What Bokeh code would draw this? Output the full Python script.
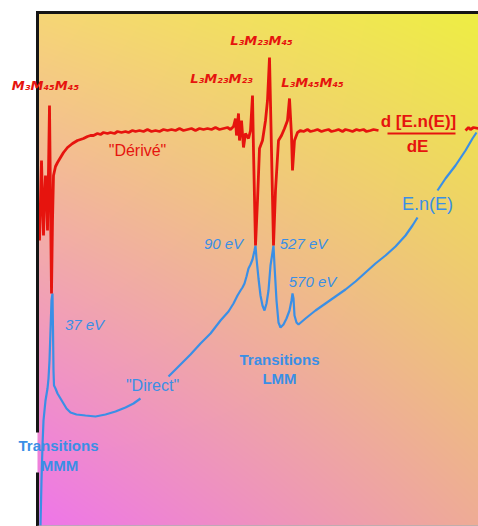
import numpy as np
from bokeh.plotting import figure
from bokeh.models import Range1d, Label, Arrow, BoxAnnotation
from bokeh.embed import file_html
from bokeh.resources import INLINE

nan = float("nan")

# Derivative spectrum d[E.n(E)]/dE (arbitrary units; x = energy-axis position, y = signal)
red_x = [2, 3, 4, 5, 6, 7, 8, 9, 10, 11, 12, 13, 14, 15, 16, 18, 20, 23, 26, 30, 35, 40,
         46, 50, 53, 56, 60, 63, 66, 70, 73, 77, 80, 84, 88, 91, 95, 98, 102, 106, 110,
         114, 118, 122, 126, 130, 134, 138, 142, 146, 150, 154, 158, 162, 166, 170, 174,
         178, 182, 186, 190, 193, 196,
         198, 199, 201, 202, 204, 206, 208, 211, 213, 215, 216, 218, 220, 222, 225, 228,
         230, 232, 234, 236, 238, 241, 244, 247, 250, 252, 254, 255, 257, 260,
         263, 266, 270, 273, 277, 280, 284, 287, 291, 294, 298, 301, 305, 308, 312, 315,
         319, 322, 326, 329, 333, 336, 341, nan, 428, 431, 433, 436, 441]
red_y = [285, 325, 365, 325, 290, 325, 350, 335, 295, 355, 420, 325, 232, 305, 350, 359, 363,
         368, 373, 378, 382, 385,
         387, 389, 390, 390, 392, 391, 393, 392, 393, 392, 394, 393, 394, 393, 395, 394,
         395, 394, 396, 394, 395, 394, 396, 395, 396, 395, 397, 395, 396, 397, 395, 397,
         396, 397, 396, 398, 396, 397, 398, 396, 399,
         407, 390, 412, 385, 405, 378, 392, 387, 395, 430, 375, 280, 325, 377, 385, 405,
         425, 468, 375, 280, 335, 385, 390, 397, 405, 427, 390, 355, 385, 393,
         395, 394, 396, 394, 395, 396, 394, 395, 396, 394, 395, 396, 394, 396, 395, 394,
         396, 395, 396, 394, 395, 396, 395, nan, 395, 398, 396, 398, 397]

# Direct spectrum E.n(E)
blue_x = [3, 4, 5, 6, 8, 10, 11, 12, 13, 14, 15, 15.5, 16, 16.5, 18, 20, 23, 26, 29, 33,
          39, 48, 58, 68, 78, 88, 96, 103, nan,
          131, 143, 153, 163, 173, 183, 191, 196, 200, 203, 205, 207, 209, 211, 213, 215,
          217, 218, 219, 221, 223, 225, 227, 229, 231, 233, 235, 236, 237, 239, 241, 243,
          246, 249, 252, 254, 255, 256, 257, 259, 261, 268, 278, 288, 298, 308, 318, 328,
          338, 348, 358, 368, 375, 380, nan, 400, 408, 418, 428, 435, 439]
blue_y = [0, 45, 80, 105, 125, 137, 147, 165, 195, 225, 232, 195, 155, 140, 137, 132, 127,
          122, 117, 113, 111, 110, 109, 111, 114, 118, 122, 127, nan,
          149, 161, 171, 182, 192, 205, 214, 222, 230, 235, 238, 242, 249, 257, 261, 266,
          275, 280, 267, 247, 230, 220, 215, 222, 235, 260, 273, 280, 260, 225, 203, 198,
          201, 207, 215, 225, 232, 227, 210, 203, 201, 207, 215, 222, 229, 236, 244, 253,
          262, 270, 279, 290, 300, 308, nan, 335, 347, 360, 375, 387, 393]

X_MAX, Y_MAX = 441, 513

RED = "#e6140e"
BLUE = "#3a8fe6"

p = figure(width=478, height=526, output_backend="svg", toolbar_location=None,
           x_range=Range1d(-37, X_MAX), y_range=Range1d(-1, Y_MAX + 12),
           x_axis_location=None, y_axis_location=None, min_border=0)
p.xgrid.grid_line_color = None
p.ygrid.grid_line_color = None
p.outline_line_color = None
p.background_fill_color = "white"
p.border_fill_color = "white"

# gradient backdrop (bilinear between corner colours)
H, W = Y_MAX, X_MAX
u = np.linspace(0, 1, W)[None, :]
v = np.linspace(0, 1, H)[:, None]
BL = np.array([238, 118, 234]); BR = np.array([238, 172, 150])
TL = np.array([246, 214, 118]); TR = np.array([238, 238, 68])
img = np.empty((H, W), dtype=np.uint32)
view = img.view(dtype=np.uint8).reshape((H, W, 4))
for c in range(3):
    view[:, :, c] = (BL[c] * (1 - u) * (1 - v) + BR[c] * u * (1 - v)
                     + TL[c] * (1 - u) * v + TR[c] * u * v).astype(np.uint8)
view[:, :, 3] = 255
p.image_rgba(image=[img], x=0, y=0, dw=W, dh=H)

p.line(blue_x, blue_y, line_color=BLUE, line_width=2.2)
p.line(red_x, red_y, line_color=RED, line_width=2.8)

# frame: left (with a gap behind the MMM label), top, thin bottom edge
for box in [dict(left=-1.5, right=1.5, bottom=-2, top=53),
            dict(left=-1.5, right=1.5, bottom=93, top=Y_MAX + 1.5),
            dict(left=-1.5, right=X_MAX + 5, bottom=Y_MAX - 1.5, top=Y_MAX + 1.5)]:
    p.add_layout(BoxAnnotation(fill_color="#151515", fill_alpha=1, line_color=None, **box))
p.add_layout(BoxAnnotation(left=0, right=X_MAX + 5, bottom=-5, top=0,
                           fill_color="#8a8a8a", fill_alpha=1, line_color=None))

def lab(x, y, t, color, size, style="normal", font="Liberation Sans"):
    p.add_layout(Label(x=x, y=y, text=t, text_align="center", text_baseline="middle",
                       text_color=color, text_font=font, text_font_size=size,
                       text_font_style=style))

# red annotations
lab(8, 440, "M₃M₄₅M₄₅", RED, "13px", "bold italic", "DejaVu Sans")
lab(184, 447, "L₃M₂₃M₂₃", RED, "13px", "bold italic", "DejaVu Sans")
lab(224, 485, "L₃M₂₃M₄₅", RED, "13px", "bold italic", "DejaVu Sans")
lab(275, 443, "L₃M₄₅M₄₅", RED, "13px", "bold italic", "DejaVu Sans")
lab(100, 375, "\"Dérivé\"", RED, "16px")
lab(381, 404, "d [E.n(E)]", RED, "17px", "bold")
lab(380, 379, "dE", RED, "17px", "bold")
p.add_layout(Arrow(x_start=350, y_start=392, x_end=418, y_end=392, end=None,
                   line_color=RED, line_width=2))

# blue annotations
lab(47, 201, "37 eV", BLUE, "15px", "italic")
lab(115, 140, "\"Direct\"", BLUE, "16px")
lab(186, 282, "90 eV", BLUE, "15px", "italic")
lab(266, 282, "527 eV", BLUE, "15px", "italic")
lab(275, 244, "570 eV", BLUE, "15px", "italic")
lab(242, 166, "Transitions", BLUE, "15px", "bold")
lab(242, 147, "LMM", BLUE, "15px", "bold")
lab(21, 80, "Transitions", BLUE, "15px", "bold")
lab(22, 60, "MMM", BLUE, "15px", "bold")
lab(390, 322, "E.n(E)", BLUE, "18px")

open("out.html", "w").write(file_html(p, INLINE))
